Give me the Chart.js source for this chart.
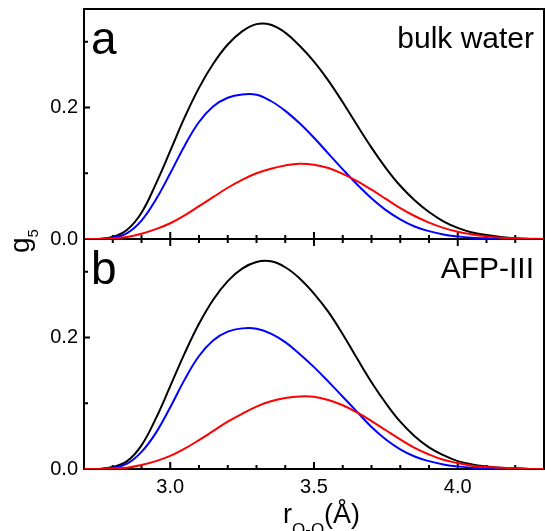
<!DOCTYPE html>
<html>
<head>
<meta charset="utf-8">
<script src="https://cdn.jsdelivr.net/npm/chart.js@4/dist/chart.umd.min.js"></script>
<style>
    html, body { margin: 0; padding: 0; background: #fff; }
    #wrap { position: relative; width: 545px; height: 531px; overflow: hidden; }
    #wrap canvas { position: absolute; left: 0; top: 0; }
</style>
</head>
<body>
<div id="wrap">
    <canvas id="panelA" width="545" height="531"></canvas>
    <canvas id="panelB" width="545" height="531"></canvas>
</div>
<script>
// r(O-O) in Angstrom, every 0.05
const rOO = [2.70, 2.75, 2.80, 2.85, 2.90, 2.95, 3.00, 3.05, 3.10, 3.15, 3.20,
             3.25, 3.30, 3.35, 3.40, 3.45, 3.50, 3.55, 3.60, 3.65, 3.70, 3.75,
             3.80, 3.85, 3.90, 3.95, 4.00, 4.05, 4.10, 4.15, 4.20, 4.25, 4.30];

// panel a - bulk water
const bulkBlack = [0, 0, 0.003, 0.014, 0.040, 0.084, 0.134, 0.185, 0.230, 0.267, 0.296,
                   0.316, 0.327, 0.326, 0.314, 0.294, 0.270, 0.241, 0.208, 0.173, 0.139, 0.108,
                   0.081, 0.059, 0.041, 0.027, 0.017, 0.010, 0.006, 0.003, 0.001, 0, 0];
const bulkBlue = [0, 0, 0.002, 0.009, 0.028, 0.060, 0.100, 0.142, 0.178, 0.202, 0.215,
                  0.220, 0.2195, 0.210, 0.195, 0.176, 0.154, 0.130, 0.106, 0.083, 0.062, 0.044,
                  0.030, 0.019, 0.012, 0.007, 0.004, 0.002, 0.001, 0, 0, 0, 0];
const bulkRed = [0, 0, 0.001, 0.003, 0.008, 0.015, 0.024, 0.036, 0.050, 0.064, 0.078,
                 0.090, 0.100, 0.107, 0.112, 0.1145, 0.113, 0.108, 0.099, 0.088, 0.075, 0.061,
                 0.047, 0.035, 0.025, 0.017, 0.011, 0.007, 0.004, 0.002, 0.001, 0.0005, 0];

// panel b - AFP-III
const afpBlack = [0, 0, 0.003, 0.012, 0.036, 0.077, 0.126, 0.176, 0.221, 0.258, 0.286,
                  0.305, 0.315, 0.316, 0.307, 0.290, 0.267, 0.239, 0.205, 0.168, 0.132, 0.100,
                  0.072, 0.050, 0.033, 0.021, 0.012, 0.007, 0.004, 0.002, 0.001, 0, 0];
const afpBlue = [0, 0, 0.002, 0.008, 0.026, 0.055, 0.094, 0.136, 0.172, 0.196, 0.209,
                 0.214, 0.2135, 0.206, 0.193, 0.175, 0.155, 0.133, 0.110, 0.087, 0.064, 0.045,
                 0.030, 0.019, 0.012, 0.007, 0.004, 0.002, 0.001, 0, 0, 0, 0];
const afpRed = [0, 0, 0.001, 0.002, 0.006, 0.012, 0.020, 0.031, 0.044, 0.058, 0.072,
                0.084, 0.095, 0.103, 0.108, 0.1105, 0.110, 0.105, 0.097, 0.086, 0.073, 0.059,
                0.045, 0.032, 0.022, 0.014, 0.009, 0.005, 0.003, 0.002, 0.001, 0, 0];

const yLabels = ['0.0', '0.2'];
const xLabels = ['3.0', '3.5', '4.0'];

const FONT = "'Liberation Sans', Arial, Helvetica, sans-serif";
Chart.defaults.font.family = FONT;
Chart.defaults.color = '#000';

function toPoints(values) {
    return rOO.map((r, i) => ({ x: r, y: values[i] }));
}

function lineSet(values, color) {
    return {
        data: toPoints(values),
        borderColor: color,
        borderWidth: 2,
        pointRadius: 0,
        fill: false,
        tension: 0.4
    };
}

// frame, inward ticks and the texts inside the panels
const framePlugin = {
    id: 'frame',
    beforeDatasetsDraw(chart, args, opts) {
        const { ctx, chartArea: a, scales } = chart;
        ctx.save();
        ctx.strokeStyle = '#000';
        ctx.lineWidth = 2;
        ctx.beginPath();
        if (opts.topLine) {
            ctx.moveTo(a.left, a.top);
            ctx.lineTo(a.right, a.top);
        }
        ctx.moveTo(a.left, a.top - 1);
        ctx.lineTo(a.left, a.bottom + 1);
        ctx.moveTo(a.right, a.top - 1);
        ctx.lineTo(a.right, a.bottom + 1);
        ctx.moveTo(a.left - 1, a.bottom);
        ctx.lineTo(a.right + 1, a.bottom);

        scales.x.ticks.forEach(t => {
            const px = scales.x.getPixelForValue(t.value);
            const k = Math.round(t.value * 10);
            const len = k % 5 === 0 ? 7 : 4;
            ctx.moveTo(px, a.bottom);
            ctx.lineTo(px, a.bottom - len);
            if (opts.topTicks) {
                ctx.moveTo(px, a.top);
                ctx.lineTo(px, a.top + len);
            }
        });
        scales.y.ticks.forEach(t => {
            const py = scales.y.getPixelForValue(t.value);
            const k = Math.round(t.value * 10);
            const len = k % 2 === 0 ? 6 : 4;
            ctx.moveTo(a.left, py);
            ctx.lineTo(a.left + len, py);
        });
        ctx.stroke();

        ctx.fillStyle = '#000';
        ctx.textBaseline = 'alphabetic';
        ctx.textAlign = 'left';
        ctx.font = '46px ' + FONT;
        ctx.fillText(opts.letter, a.left + 7, a.top + 45);
        ctx.textAlign = 'right';
        ctx.font = '30px ' + FONT;
        ctx.fillText(opts.name, a.right - 10, a.top + 39);

        if (opts.axisTitles) {
            // x title: r with subscript O-O, then (Å)
            ctx.textAlign = 'left';
            let x = 283;
            ctx.font = '27px ' + FONT;
            ctx.fillText('r', x, 523);
            x += ctx.measureText('r').width;
            ctx.font = '17px ' + FONT;
            ctx.fillText('O-O', x, 535);
            x += ctx.measureText('O-O').width;
            ctx.font = '27px ' + FONT;
            ctx.fillText('(Å)', x, 523);

            // y title: g with subscript 5, turned
            ctx.save();
            ctx.translate(29, 253);
            ctx.rotate(-Math.PI / 2);
            ctx.font = '28px ' + FONT;
            ctx.fillText('g', 0, 0);
            const gw = ctx.measureText('g').width;
            ctx.font = '15px ' + FONT;
            ctx.fillText('5', gw, 9);
            ctx.restore();
        }
        ctx.restore();
    }
};

function yScale() {
    return {
        type: 'linear',
        min: 0,
        max: 0.35,
        afterFit: s => { s.width = 84; s.paddingTop = 0; s.paddingBottom = 0; },
        grid: { display: false, drawTicks: false },
        border: { display: false },
        ticks: {
            stepSize: 0.1,
            includeBounds: false,
            autoSkip: false,
            padding: 6,
            font: { size: 20 },
            callback: v => {
                const s = v.toFixed(1);
                return yLabels.includes(s) ? s : '';
            }
        }
    };
}

function makePanel(id, black, blue, red, panel) {
    const ctx = document.getElementById(id).getContext('2d');
    const showX = panel.showX;
    new Chart(ctx, {
        type: 'line',
        data: {
            datasets: [lineSet(red, '#ff0000'), lineSet(blue, '#0000ff'), lineSet(black, '#000000')]
        },
        options: {
            responsive: false,
            animation: false,
            devicePixelRatio: 1,
            layout: { padding: panel.padding },
            plugins: {
                legend: { display: false },
                tooltip: { enabled: false },
                frame: panel.frame
            },
            scales: {
                x: {
                    type: 'linear',
                    min: 2.7,
                    max: 4.3,
                    display: true,
                    afterFit: s => { s.height = showX ? 62 : 0; s.paddingLeft = 0; s.paddingRight = 0; },
                    grid: { display: false, drawTicks: false },
                    border: { display: false },
                    ticks: {
                        display: showX,
                        stepSize: 0.1,
                        autoSkip: false,
                        maxRotation: 0,
                        padding: 6,
                        font: { size: 20 },
                        callback: v => {
                            const s = v.toFixed(1);
                            return xLabels.includes(s) ? s : '';
                        }
                    }
                },
                y: yScale()
            }
        },
        plugins: [framePlugin]
    });
}

document.addEventListener('DOMContentLoaded', function () {
    makePanel('panelA', bulkBlack, bulkBlue, bulkRed, {
        showX: false,
        padding: { left: 0, top: 9, right: 1, bottom: 292 },
        frame: { letter: 'a', name: 'bulk water', topLine: true, topTicks: false, axisTitles: false }
    });
    makePanel('panelB', afpBlack, afpBlue, afpRed, {
        showX: true,
        padding: { left: 0, top: 239, right: 1, bottom: 0 },
        frame: { letter: 'b', name: 'AFP-III', topLine: false, topTicks: true, axisTitles: true }
    });
});
</script>
</body>
</html>
